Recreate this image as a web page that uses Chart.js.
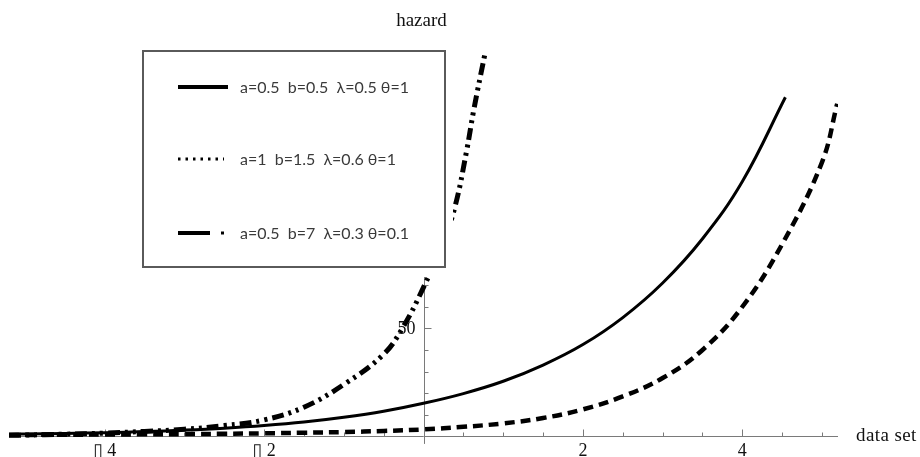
<!DOCTYPE html>
<html>
<head>
<meta charset="utf-8">
<script src="https://cdn.jsdelivr.net/npm/chart.js@4.4.1/dist/chart.umd.min.js"></script>
<style>
  html, body { margin: 0; padding: 0; background: #fff; }
  #wrap { position: relative; width: 920px; height: 457px; }
</style>
</head>
<body>
<div id="wrap"><canvas id="c"></canvas></div>
<script>
// ---- data ----
const seriesLabels = [
  'a=0.5  b=0.5  \u03bb=0.5 \u03b8=1',
  'a=1  b=1.5  \u03bb=0.6 \u03b8=1',
  'a=0.5  b=7  \u03bb=0.3 \u03b8=0.1'
];
const solidX = [-5.2, -5, -4.5, -4, -3.5, -3, -2.5, -2, -1.5, -1, -0.5, 0, 0.5, 1, 1.5, 2, 2.5, 3, 3.5, 4, 4.54];
const solidY = [1.0, 1.1, 1.35, 1.7, 2.2, 2.9, 3.8, 5.0, 6.6, 8.8, 11.6, 15.3, 19.8, 25.5, 33, 42.5, 55, 71, 91.5, 118, 157];
const dashedX = [-5.2, -5, -4.5, -4, -3.5, -3, -2.5, -2, -1.5, -1, -0.5, 0, 0.5, 1, 1.5, 2, 2.5, 3, 3.5, 4, 4.5, 5, 5.19];
const dashedY = [0.6, 0.65, 0.75, 0.85, 0.95, 1.05, 1.2, 1.4, 1.7, 2.0, 2.5, 3.2, 4.4, 6.0, 8.5, 12.5, 18.5, 27, 40, 60, 89, 127, 154];
const dashDotX = [-5.2, -5, -4.5, -4, -3.5, -3, -2.5, -2, -1.5, -1, -0.5, -0.25, 0, 0.25, 0.4, 0.54, 0.63, 0.77];
const dashDotY = [0.5, 0.6, 1.0, 1.5, 2.3, 3.3, 5.0, 7.6, 13.5, 24, 38, 51, 69, 90, 107, 132, 151, 177];
const xTickValues = [-4, -2, 2, 4];
const xTickLabels = ['\u25AF 4', '\u25AF 2', '2', '4'];
const yTickValues = [50];
const yTickLabels = ['50'];
const xAxisTitle = 'data set';
const yAxisTitle = 'hazard';

const toPoints = (xs, ys) => xs.map((x, i) => ({ x: x, y: ys[i] }));

const SERIF = '"Liberation Serif", "DejaVu Serif", serif';

const bgPlugin = {
  id: 'bg',
  beforeDraw(chart) {
    const ctx = chart.ctx;
    ctx.save();
    ctx.fillStyle = '#fff';
    ctx.fillRect(0, 0, chart.width, chart.height);
    ctx.restore();
  }
};

const axesPlugin = {
  id: 'mathAxes',
  beforeDatasetsDraw(chart) {
    const { ctx, scales: { x, y }, chartArea } = chart;
    const x0 = Math.round(x.getPixelForValue(0)) + 0.5;
    const y0 = Math.round(y.getPixelForValue(0)) + 0.5;
    ctx.save();
    ctx.strokeStyle = '#7a7a7a';
    ctx.lineWidth = 1;
    ctx.beginPath();
    ctx.moveTo(chartArea.left, y0);
    ctx.lineTo(chartArea.right, y0);
    ctx.moveTo(x0, y.getPixelForValue(-3.5));
    ctx.lineTo(x0, chartArea.top);
    ctx.stroke();
    // x ticks (pointing up)
    ctx.beginPath();
    for (let v = -5; v <= 5; v += 0.5) {
      if (v === 0) continue;
      const px = Math.round(x.getPixelForValue(v)) + 0.5;
      const len = (v % 2 === 0) ? 7 : 4;
      ctx.moveTo(px, y0);
      ctx.lineTo(px, y0 - len);
    }
    // y ticks (pointing right)
    for (let v = 10; v <= 190; v += 10) {
      const py = Math.round(y.getPixelForValue(v)) + 0.5;
      const len = (v % 50 === 0) ? 7 : 4;
      ctx.moveTo(x0, py);
      ctx.lineTo(x0 + len, py);
    }
    ctx.stroke();
    ctx.restore();
  },
  afterDatasetsDraw(chart) {
    const { ctx, scales: { x, y }, chartArea } = chart;
    const x0 = x.getPixelForValue(0);
    const y0 = y.getPixelForValue(0);
    ctx.save();
    ctx.fillStyle = '#111';
    ctx.font = '18px ' + SERIF;
    ctx.textAlign = 'center';
    ctx.textBaseline = 'alphabetic';
    xTickValues.forEach((v, i) => {
      ctx.fillText(xTickLabels[i], x.getPixelForValue(v), y0 + 20);
    });
    ctx.textAlign = 'right';
    ctx.textBaseline = 'middle';
    yTickValues.forEach((v, i) => {
      ctx.fillText(yTickLabels[i], x0 - 8, y.getPixelForValue(v) + 1);
    });
    ctx.textAlign = 'left';
    ctx.font = '19px ' + SERIF;
    if ('letterSpacing' in ctx) ctx.letterSpacing = '0.4px';
    ctx.fillText(xAxisTitle, chartArea.right + 18, y0);
    ctx.restore();
  }
};

const legendPlugin = {
  id: 'boxLegend',
  afterDatasetsDraw(chart) {
    const ctx = chart.ctx;
    ctx.save();
    // white backing that hides what lies under the legend
    ctx.fillStyle = '#fff';
    ctx.fillRect(133, 0, 320, 277);
    ctx.strokeStyle = '#5a5a5a';
    ctx.lineWidth = 2;
    ctx.strokeRect(143, 51, 302, 216);
    const rows = [87, 159, 233];
    const sx0 = 178, sx1 = 228;
    ctx.strokeStyle = '#000';
    ctx.lineCap = 'butt';
    // row 1: solid
    ctx.lineWidth = 4;
    ctx.setLineDash([]);
    ctx.beginPath(); ctx.moveTo(sx0, rows[0]); ctx.lineTo(sx1, rows[0]); ctx.stroke();
    // row 2: dotted
    ctx.lineWidth = 3;
    ctx.setLineDash([2.5, 5]);
    ctx.beginPath(); ctx.moveTo(sx0, rows[1]); ctx.lineTo(sx1 - 4, rows[1]); ctx.stroke();
    // row 3: dash + dot
    ctx.setLineDash([]);
    ctx.lineWidth = 4;
    ctx.beginPath(); ctx.moveTo(sx0, rows[2]); ctx.lineTo(sx0 + 32, rows[2]); ctx.stroke();
    ctx.lineWidth = 3;
    ctx.beginPath(); ctx.moveTo(sx0 + 43, rows[2]); ctx.lineTo(sx0 + 46, rows[2]); ctx.stroke();
    // labels
    ctx.fillStyle = '#3a3a3a';
    ctx.font = '16px Lato, "Noto Sans", sans-serif';
    ctx.textAlign = 'left';
    ctx.textBaseline = 'middle';
    chart.data.datasets.forEach((ds, i) => {
      ctx.fillText(ds.label, 240, rows[i] + 1);
    });
    // y axis title
    ctx.fillStyle = '#111';
    ctx.font = '19px ' + SERIF;
    ctx.textAlign = 'center';
    ctx.fillText(yAxisTitle, chart.scales.x.getPixelForValue(0) - 2, 21);
    ctx.restore();
  }
};

new Chart(document.getElementById('c'), {
  type: 'line',
  data: {
    datasets: [
      {
        label: seriesLabels[0],
        data: toPoints(solidX, solidY),
        borderColor: '#000',
        borderWidth: 3,
        pointRadius: 0,
        tension: 0.4,
        fill: false
      },
      {
        label: seriesLabels[1],
        data: toPoints(dashedX, dashedY),
        borderColor: '#000',
        borderWidth: 4.5,
        borderDash: [10, 6],
        borderCapStyle: 'butt',
        pointRadius: 0,
        tension: 0.4,
        fill: false
      },
      {
        label: seriesLabels[2],
        data: toPoints(dashDotX, dashDotY),
        borderColor: '#000',
        borderWidth: 5,
        borderDash: [12, 5, 3, 5, 3, 5],
        borderCapStyle: 'butt',
        pointRadius: 0,
        tension: 0.4,
        fill: false
      }
    ]
  },
  options: {
    responsive: true,
    maintainAspectRatio: false,
    animation: false,
    layout: { padding: { left: 9, right: 82, top: 19.5, bottom: 12 } },
    scales: {
      x: { type: 'linear', min: -5.2, max: 5.2, display: false },
      y: { type: 'linear', min: -4, max: 193, display: false }
    },
    plugins: {
      legend: { display: false },
      tooltip: { enabled: false }
    }
  },
  plugins: [bgPlugin, axesPlugin, legendPlugin]
});
</script>
</body>
</html>
